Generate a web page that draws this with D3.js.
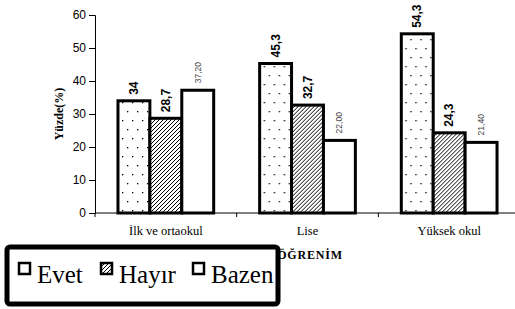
<!DOCTYPE html>
<html>
<head>
<meta charset="utf-8">
<script src="https://cdn.jsdelivr.net/npm/d3@7"></script>
<style>
  body { margin: 0; background: #fff; }
  svg { display: block; }
</style>
</head>
<body>
<div id="chart"></div>
<script>
var categories = ['İlk ve ortaokul', 'Lise', 'Yüksek okul'];
var series = ['Evet', 'Hayır', 'Bazen'];
var evet = [34, 45.3, 54.3];
var hayir = [28.7, 32.7, 24.3];
var bazen = [37.2, 22.0, 21.4];
var evetLabels = ['34', '45,3', '54,3'];
var hayirLabels = ['28,7', '32,7', '24,3'];
var bazenLabels = ['37,20', '22,00', '21,40'];
var yTicks = [0, 10, 20, 30, 40, 50, 60];

var width = 515, height = 309;
var svg = d3.select('#chart').append('svg')
	.attr('width', width).attr('height', height);

var defs = svg.append('defs');
var dots = defs.append('pattern')
	.attr('id', 'dots')
	.attr('patternUnits', 'userSpaceOnUse')
	.attr('width', 10).attr('height', 18);
dots.append('rect').attr('width', 10).attr('height', 18).attr('fill', '#fff');
dots.append('rect').attr('x', 2).attr('y', 3).attr('width', 1.3).attr('height', 1.3).attr('fill', '#000');
dots.append('rect').attr('x', 7).attr('y', 12).attr('width', 1.3).attr('height', 1.3).attr('fill', '#000');

var hatch = defs.append('pattern')
	.attr('id', 'hatch')
	.attr('patternUnits', 'userSpaceOnUse')
	.attr('width', 4).attr('height', 4);
hatch.append('rect').attr('width', 4).attr('height', 4).attr('fill', '#fff');
hatch.append('path').attr('d', 'M-1,1 l2,-2 M0,4 l4,-4 M3,5 l2,-2')
	.attr('stroke', '#000').attr('stroke-width', 1);

var fills = {'Evet': 'url(#dots)', 'Hayır': 'url(#hatch)', 'Bazen': '#fff'};

var x0 = d3.scaleBand().domain(categories).range([95, 520]).padding(0);
var x1 = d3.scaleBand().domain(series).range([0, x0.bandwidth()]).paddingOuter(0.72).paddingInner(0);
var y = d3.scaleLinear().domain([0, 60]).range([213, 15]);

// y axis
var yAxis = svg.append('g')
	.attr('transform', 'translate(95,0)')
	.call(d3.axisLeft(y).tickValues(yTicks).tickSize(6).tickPadding(3));
yAxis.selectAll('text')
	.attr('font-family', 'Liberation Sans, Arial, sans-serif')
	.attr('font-size', 12).attr('fill', '#000');
yAxis.select('.domain').attr('stroke', '#000');

// x axis
var xAxis = svg.append('g')
	.attr('transform', 'translate(0,213)');
xAxis.append('line').attr('x1', 95).attr('x2', 520).attr('stroke', '#000');
xAxis.selectAll('.tk').data(categories.concat(['end'])).enter()
	.append('line')
	.attr('x1', function (d, i) { return 95 + i * x0.step(); })
	.attr('x2', function (d, i) { return 95 + i * x0.step(); })
	.attr('y1', 0).attr('y2', 4)
	.attr('stroke', '#000');
xAxis.selectAll('.cat').data(categories).enter()
	.append('text')
	.attr('x', function (d) { return x0(d) + x0.bandwidth() / 2; })
	.attr('y', 22)
	.attr('text-anchor', 'middle')
	.attr('font-family', 'Liberation Serif, Times New Roman, serif')
	.attr('font-size', 12.5)
	.text(function (d) { return d; });

svg.append('text')
	.attr('transform', 'translate(63,114) rotate(-90)')
	.attr('text-anchor', 'middle')
	.attr('font-family', 'Liberation Serif, Times New Roman, serif')
	.attr('font-weight', 'bold')
	.attr('font-size', 12)
	.text('Yüzde(%)');

svg.append('text')
	.attr('x', 310).attr('y', 259)
	.attr('text-anchor', 'middle')
	.attr('font-family', 'Liberation Serif, Times New Roman, serif')
	.attr('font-weight', 'bold')
	.attr('font-size', 12)
	.attr('letter-spacing', 0.8)
	.text('ÖĞRENİM');

// bars
var rows = categories.map(function (c, i) {
	return [
		{cat: c, s: 'Evet', v: evet[i], lab: evetLabels[i]},
		{cat: c, s: 'Hayır', v: hayir[i], lab: hayirLabels[i]},
		{cat: c, s: 'Bazen', v: bazen[i], lab: bazenLabels[i]}
	];
});

var groups = svg.selectAll('.grp').data(rows).enter()
	.append('g')
	.attr('transform', function (d) { return 'translate(' + x0(d[0].cat) + ',0)'; });

groups.selectAll('rect').data(function (d) { return d; }).enter()
	.append('rect')
	.attr('x', function (d) { return x1(d.s); })
	.attr('y', function (d) { return y(d.v); })
	.attr('width', x1.bandwidth())
	.attr('height', function (d) { return y(0) - y(d.v); })
	.attr('fill', function (d) { return fills[d.s]; })
	.attr('stroke', '#000')
	.attr('stroke-width', 3);

groups.selectAll('.lab').data(function (d) { return d; }).enter()
	.append('text')
	.attr('transform', function (d) {
		var gap = d.s == 'Bazen' ? 7 : 6;
		return 'translate(' + (x1(d.s) + x1.bandwidth() / 2) + ',' + (y(d.v) - gap) + ') rotate(-90)';
	})
	.attr('dy', '0.35em')
	.attr('font-family', 'Liberation Sans, Arial, sans-serif')
	.attr('font-size', function (d) { return d.s == 'Bazen' ? 8.5 : 12; })
	.attr('font-weight', function (d) { return d.s == 'Bazen' ? 'normal' : 'bold'; })
	.attr('fill', function (d) { return d.s == 'Bazen' ? '#444' : '#000'; })
	.text(function (d) { return d.lab; });

// legend
var legend = svg.append('g');
legend.append('rect')
	.attr('x', 7).attr('y', 247).attr('width', 271).attr('height', 57)
	.attr('rx', 3)
	.attr('fill', '#fff').attr('stroke', '#000').attr('stroke-width', 5);
var legendX = [19, 101, 193];
var items = legend.selectAll('.item').data(series).enter()
	.append('g')
	.attr('transform', function (d, i) { return 'translate(' + legendX[i] + ',263)'; });
items.append('rect')
	.attr('width', 11).attr('height', 11)
	.attr('fill', function (d) { return d == 'Hayır' ? 'url(#hatch)' : '#fff'; })
	.attr('stroke', '#000').attr('stroke-width', 2.5);
items.append('text')
	.attr('x', 18).attr('y', 20)
	.attr('font-family', 'Liberation Serif, Times New Roman, serif')
	.attr('font-size', 25)
	.text(function (d) { return d; });
</script>
</body>
</html>
